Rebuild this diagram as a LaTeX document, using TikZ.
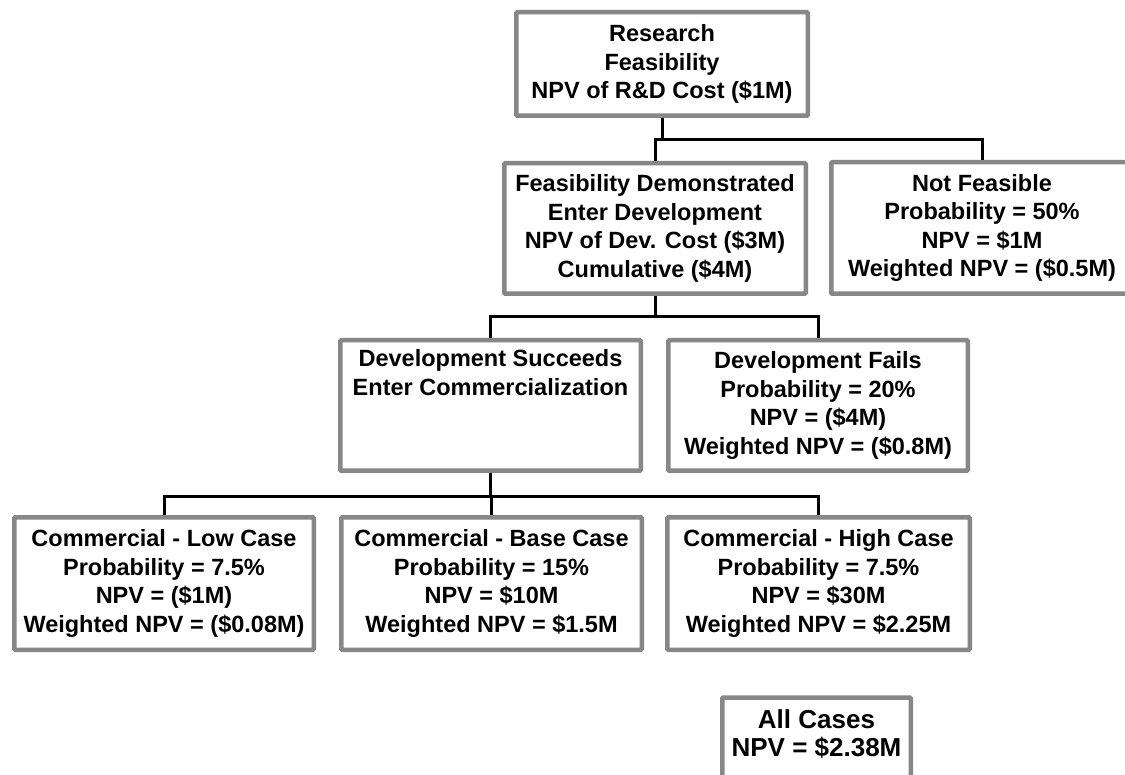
\documentclass[tikz,border=0pt]{standalone}
\usepackage{fontspec}
\setmainfont{Liberation Sans}
\definecolor{boxgray}{HTML}{878787}
\begin{document}
\begin{tikzpicture}[x=1pt,y=-1pt,
  box/.style={draw=boxgray, line width=4.5pt, fill=white, rounded corners=1pt,
    inner sep=0pt, align=center, font=\fontsize{23.5}{28.5}\selectfont\bfseries},
  bigtxt/.style={inner sep=0pt, align=center, font=\fontsize{26}{28.5}\selectfont\bfseries},
  conn/.style={draw=black, line width=3pt}]
\clip (0,0) rectangle (1125,775);
\fill[white] (0,0) rectangle (1125,775);

\node[box, minimum width=291.5pt, minimum height=103.5pt] (r) at (662,64)
  {Research\\Feasibility\\NPV of R\&D Cost (\$1M)};
\node[box, minimum width=301.5pt, minimum height=130.5pt] (fd) at (655,228.5)
  {Feasibility Demonstrated\\Enter Development\\NPV of Dev. Cost (\$3M)\\Cumulative (\$4M)};
\node[box, minimum width=301.5pt, minimum height=131.5pt] (nf) at (982,228)
  {Not Feasible\\Probability = 50\%\\NPV = \$1M\\Weighted NPV = (\$0.5M)};
\node[box, minimum width=300.5pt, minimum height=130.5pt] (ds) at (490.5,405.5)
  {Development Succeeds\\Enter Commercialization\\\strut\\\strut};
\node[box, minimum width=299.5pt, minimum height=130.5pt] (df) at (818,405.5)
  {Development Fails\\Probability = 20\%\\NPV = (\$4M)\\Weighted NPV = (\$0.8M)};
\node[box, minimum width=299.5pt, minimum height=132.5pt] (low) at (164,583.5)
  {Commercial - Low Case\\Probability = 7.5\%\\NPV = (\$1M)\\Weighted NPV = (\$0.08M)};
\node[box, minimum width=300.5pt, minimum height=132.5pt] (base) at (491.5,583.5)
  {Commercial - Base Case\\Probability = 15\%\\NPV = \$10M\\Weighted NPV = \$1.5M};
\node[box, minimum width=302.5pt, minimum height=132.5pt] (high) at (818.5,583.5)
  {Commercial - High Case\\Probability = 7.5\%\\NPV = \$30M\\Weighted NPV = \$2.25M};
\node[box, minimum width=188.5pt, minimum height=130pt, anchor=north] (all) at (816.5,695.25) {};
\node[bigtxt] (alltxt) at (816.5,734) {All Cases\\NPV = \$2.38M};

\coordinate (j1) at (0,140);
\coordinate (j2) at (0,317);
\coordinate (j3) at (0,496);

\draw[conn] (r.south) -- (r.south |- j1);
\draw[conn] (fd.north) -- (fd.north |- j1) -- (nf.north |- j1) -- (nf.north);
\draw[conn] (fd.south) -- (fd.south |- j2);
\draw[conn] (ds.north) -- (ds.north |- j2) -- (df.north |- j2) -- (df.north);
\draw[conn] (ds.south) -- (ds.south |- j3);
\draw[conn] (low.north) -- (low.north |- j3) -- (high.north |- j3) -- (high.north);
\draw[conn] (base.north) -- (base.north |- j3);
\end{tikzpicture}
\end{document}
